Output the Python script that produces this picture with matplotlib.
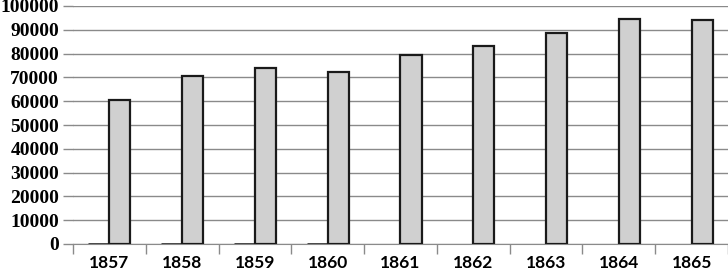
import numpy as np
import matplotlib.pyplot as plt

years = ["1857", "1858", "1859", "1860", "1861", "1862", "1863", "1864", "1865"]
series_a = [0, 0, 0, 0, np.nan, np.nan, np.nan, np.nan, np.nan]
series_b = [60500, 70700, 74000, 72300, 79400, 83300, 88700, 94400, 94000]

fig = plt.figure(figsize=(7.28, 2.73), dpi=100)
ax = fig.add_axes([73 / 728, 29 / 273, 655 / 728, 238 / 273])

x = np.arange(len(years))
w = 0.29
ax.bar(x - w / 2, series_a, w, color="#d0d0d0", edgecolor="#1a1a1a", linewidth=1.8, zorder=3)
ax.bar(x + w / 2, series_b, w, color="#d0d0d0", edgecolor="#1a1a1a", linewidth=1.6, zorder=3)

ax.set_xlim(-0.5, len(years) - 0.5)
ax.set_ylim(0, 100000)
ax.set_yticks(np.arange(0, 100001, 10000))
ax.set_yticklabels([str(v) for v in range(0, 100001, 10000)],
                   family="Liberation Serif", fontweight="bold", fontsize=14)
ax.yaxis.grid(True, color="#8a8a8a", linewidth=1.0, zorder=0)
ax.tick_params(axis="y", length=7, color="#8a8a8a", width=1.0, pad=3)

ax.set_xticks(x)
ax.set_xticklabels(years, family="Lato", fontweight="bold", fontsize=12.5)
ax.set_xticks(np.arange(-0.5, len(years)), minor=True)
ax.tick_params(axis="x", which="major", length=0, pad=8)
ax.tick_params(axis="x", which="minor", length=7, color="#8a8a8a", width=1.0)

for s in ["top", "right", "left"]:
    ax.spines[s].set_visible(False)
ax.spines["bottom"].set_color("#8a8a8a")
ax.spines["bottom"].set_zorder(1)

fig.savefig("out.png", dpi=100)
